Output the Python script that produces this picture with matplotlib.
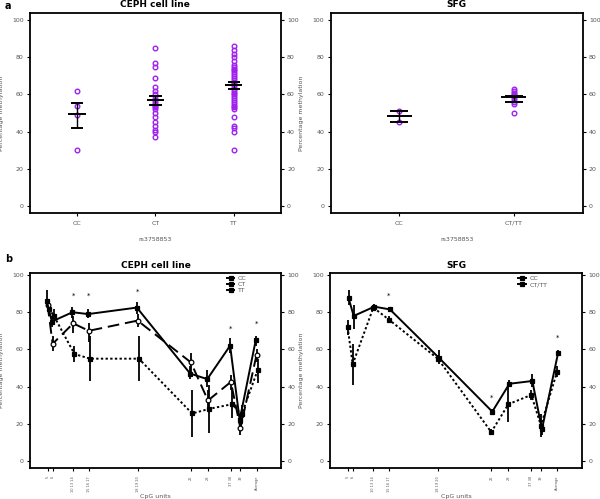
import numpy as np
import matplotlib.pyplot as plt

# ---- panel a data (percentage methylation per sample) ----
ceph_groups = ['CC', 'CT', 'TT']
ceph_cc = [62, 54, 49, 30]
ceph_ct = [85, 77, 75, 69, 64, 62, 60, 58, 57, 56, 55, 54, 53, 52, 50, 48, 45, 43, 41, 40, 37]
ceph_tt = [86, 84, 82, 80, 78, 76, 75, 74, 73, 72, 71, 70, 69, 68, 67, 66, 65, 64, 63, 62,
           61, 60, 59, 58, 57, 56, 55, 54, 53, 52, 48, 43, 42, 40, 30]
ceph_mean = [49.5, 57.0, 65.0]
ceph_lo = [42.0, 54.5, 63.0]
ceph_hi = [55.5, 59.0, 66.5]

sfg_groups = ['CC', 'CT/TT']
sfg_cc = [51, 45]
sfg_cttt = [63, 62, 61, 60, 59, 58, 57, 56, 55, 50]
sfg_mean = [48.5, 58.5]
sfg_lo = [45.0, 56.0]
sfg_hi = [51.0, 59.0]

# ---- panel b data (mean and error per CpG unit) ----
cpg_pos = [7.0, 9.0, 17.2, 23.4, 42.8, 64.0, 70.8, 79.9, 83.7, 90.1]
cpg_labels = ['5', '6', '10 13 14', '15 16 17', '18 19 20', '26', '28', '37 38', '39', 'Average']

ceph_b_tt = [86, 75, 80, 79, 82.5, 47, 44, 62, 22, 65]
ceph_b_tt_lo = [83, 72, 77, 77, 79, 44, 40, 58, 19, 62]
ceph_b_tt_hi = [92, 78, 83, 82, 85.5, 51, 49, 66, 25, 67]
ceph_b_ct = [84, 63, 74, 70, 75.5, 53, 32.5, 42.5, 17.5, 57]
ceph_b_ct_lo = [82, 59, 69, 64, 72, 48, 27, 38, 14, 53]
ceph_b_ct_hi = [86, 67, 78, 74, 79, 58, 38, 46, 21, 60]
ceph_b_cc = [82, 78, 57.5, 55, 55, 25.5, 28, 30.5, 25, 49]
ceph_b_cc_lo = [78, 74, 53, 43, 43, 13, 15, 23, 20, 42]
ceph_b_cc_hi = [86, 82, 62, 67, 67, 38, 41, 38, 30, 55]
ceph_star_x = [17.2, 23.4, 42.8, 79.9, 90.1]
ceph_star_y = [89, 89, 91, 71, 74]

sfg_b_tt = [87.5, 78, 83, 81.5, 55.5, 26.5, 41.5, 43, 17, 58]
sfg_b_tt_lo = [84, 71, 82, 80, 52, 25, 40, 40, 14, 56.5]
sfg_b_tt_hi = [92, 84, 84.5, 83, 59.5, 28, 43.5, 46.5, 20, 59.5]
sfg_b_cc = [72, 52, 82.5, 76, 55, 15.5, 30.5, 35.5, 19, 48]
sfg_b_cc_lo = [68, 41, 81, 74, 53, 14, 21, 33, 13, 45]
sfg_b_cc_hi = [76, 63, 84, 78, 57, 17, 42, 38, 25, 51]
sfg_star_x = [23.4, 64.0, 90.1]
sfg_star_y = [89, 34, 66]

purple = '#A020F0'
grey = '#555555'

fig = plt.figure(figsize=(6, 4.99), dpi=100)


def style_axes(ax, title):
    ax.set_title(title, fontsize=6.5, fontweight='bold', pad=4)
    ax.set_yticks([0, 20, 40, 60, 80, 100])
    ax.tick_params(axis='y', labelsize=4.5, labelcolor=grey, length=2.5, width=0.8,
                   right=True, labelright=True, direction='out', pad=2)
    ax.tick_params(axis='x', labelsize=4.5, labelcolor=grey, length=2.5, width=0.8,
                   direction='out', pad=3)
    for s in ax.spines.values():
        s.set_linewidth(1.3)
    ax.set_ylabel('Percentage methylation', fontsize=4.5, color=grey, labelpad=6)


def dotplot(ax, groups, samples, means, lo, hi):
    for i, vals in enumerate(samples):
        x = np.full(len(vals), i + 1)
        ax.plot(x, vals, 'o', ms=3.3, mfc='none', mec=purple, mew=1.0)
    xs = np.arange(1, len(groups) + 1)
    ax.hlines(means, xs - 0.11, xs + 0.11, color='black', lw=1.4)
    ax.hlines(lo, xs - 0.08, xs + 0.08, color='black', lw=1.4)
    ax.hlines(hi, xs - 0.08, xs + 0.08, color='black', lw=1.4)
    ax.vlines(xs, lo, hi, color='black', lw=1.0)
    ax.set_xticks(xs)
    ax.set_xticklabels(groups)
    ax.set_ylim(-4, 104)
    ax.set_xlabel('rs3758853', fontsize=4.5, color=grey, labelpad=8)


def errline(ax, y, lo, hi, ls, marker, mfc, label, dx=0.0):
    x = np.array(cpg_pos) + dx
    y = np.array(y)
    yerr = [y - np.array(lo), np.array(hi) - y]
    ax.errorbar(x, y, yerr=yerr, fmt='none', ecolor='black', elinewidth=1.3, capsize=0)
    ax.plot(x, y, color='black', ls=ls, lw=1.4, marker=marker, ms=3.4,
            mfc=mfc, mec='black', mew=0.9, label=label)


def cpg_axes(ax):
    ax.set_xlim(0, 100)
    ax.set_ylim(-4, 101)
    ax.set_xticks(cpg_pos)
    ax.set_xticklabels(cpg_labels, rotation=90, fontsize=2.5)
    ax.set_xlabel('CpG units', fontsize=4.5, color=grey, labelpad=2)
    leg = ax.legend(loc='upper right', bbox_to_anchor=(0.88, 1.01), frameon=False,
                    fontsize=4.5, handlelength=1.2, labelspacing=0.1, borderpad=0.2,
                    handletextpad=0.6)
    for t in leg.get_texts():
        t.set_color(grey)
    for h in leg.get_lines():
        h.set_linestyle('-')
        h.set_marker('s')
        h.set_markerfacecolor('black')


dotted = (0, (1.2, 1.2))

# panel a, CEPH
ax1 = fig.add_axes([0.05, 0.573, 0.418, 0.401])
dotplot(ax1, ceph_groups, [ceph_cc, ceph_ct, ceph_tt], ceph_mean, ceph_lo, ceph_hi)
ax1.set_xlim(0.4, 3.6)
style_axes(ax1, 'CEPH cell line')

# panel a, SFG
ax2 = fig.add_axes([0.551, 0.573, 0.42, 0.401])
dotplot(ax2, sfg_groups, [sfg_cc, sfg_cttt], sfg_mean, sfg_lo, sfg_hi)
ax2.set_xlim(0.4, 2.6)
style_axes(ax2, 'SFG')

# panel b, CEPH
ax3 = fig.add_axes([0.05, 0.0615, 0.419, 0.391])
errline(ax3, ceph_b_cc, ceph_b_cc_lo, ceph_b_cc_hi, dotted, 's', 'black', 'CC', dx=0.5)
errline(ax3, ceph_b_ct, ceph_b_ct_lo, ceph_b_ct_hi, (0, (6, 3)), 'o', 'white', 'CT', dx=0.0)
errline(ax3, ceph_b_tt, ceph_b_tt_lo, ceph_b_tt_hi, '-', 's', 'black', 'TT', dx=-0.3)
for x, y in zip(ceph_star_x, ceph_star_y):
    ax3.text(x, y, '*', fontsize=5, ha='center', va='center')
style_axes(ax3, 'CEPH cell line')
cpg_axes(ax3)

# panel b, SFG
ax4 = fig.add_axes([0.55, 0.0615, 0.42, 0.391])
errline(ax4, sfg_b_cc, sfg_b_cc_lo, sfg_b_cc_hi, dotted, 's', 'black', 'CC', dx=0.0)
errline(ax4, sfg_b_tt, sfg_b_tt_lo, sfg_b_tt_hi, '-', 's', 'black', 'CT/TT', dx=0.4)
for x, y in zip(sfg_star_x, sfg_star_y):
    ax4.text(x, y, '*', fontsize=5, ha='center', va='center')
style_axes(ax4, 'SFG')
cpg_axes(ax4)

fig.text(0.008, 0.988, 'a', fontsize=7, fontweight='bold', va='center')
fig.text(0.008, 0.48, 'b', fontsize=7, fontweight='bold', va='center')

fig.savefig('out.png', dpi=100)
